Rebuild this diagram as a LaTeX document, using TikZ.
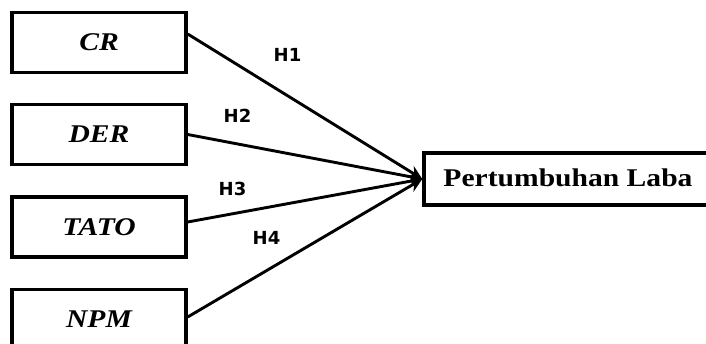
\documentclass[tikz,border=0pt]{standalone}
\usepackage{fontspec}
\setmainfont{Liberation Serif}
\newfontfamily\hfont{DejaVu Sans}
\usetikzlibrary{arrows.meta}
\newcommand{\widetxt}[1]{\scalebox{1.16}[1]{#1}}
\begin{document}
\begin{tikzpicture}[x=1pt,y=-1pt,
  varbox/.style={draw=black,line width=3.4pt,fill=white,minimum width=174pt,minimum height=60pt,inner sep=0pt,
    font=\fontsize{25.5}{30}\selectfont\bfseries\itshape},
  depbox/.style={draw=black,line width=3.4pt,fill=white,minimum width=288pt,minimum height=52pt,inner sep=0pt,
    font=\fontsize{25.5}{30}\selectfont\bfseries},
  hlab/.style={font=\hfont\fontsize{18}{20}\selectfont\bfseries,inner sep=0pt},
  conn/.style={line width=2.9pt,-{Stealth[length=14pt,width=13pt]}}]
\useasboundingbox (0,0) rectangle (706,344);
\clip (0,0) rectangle (706,344);
\node[varbox] (cr) at (99,42.5) {\widetxt{CR}};
\node[varbox] (der) at (99,134.5) {\widetxt{DER}};
\node[varbox] (tato) at (99,227) {\widetxt{TATO}};
\node[varbox] (npm) at (99,319.5) {\widetxt{NPM}};
\node[depbox] (pl) at (568,179) {\raisebox{3pt}{\widetxt{Pertumbuhan Laba}}};
\draw[conn] ([yshift=8.5pt]cr.east) -- (pl.west);
\draw[conn] (der.east) -- (pl.west);
\draw[conn] ([yshift=5pt]tato.east) -- (pl.west);
\draw[conn] ([yshift=2.5pt]npm.east) -- (pl.west);
\node[hlab] (h1) at (287.5,55) {H1};
\node[hlab] (h2) at (237.5,116) {H2};
\node[hlab] (h3) at (232.5,189) {H3};
\node[hlab] (h4) at (266.5,238) {H4};
\end{tikzpicture}
\end{document}
